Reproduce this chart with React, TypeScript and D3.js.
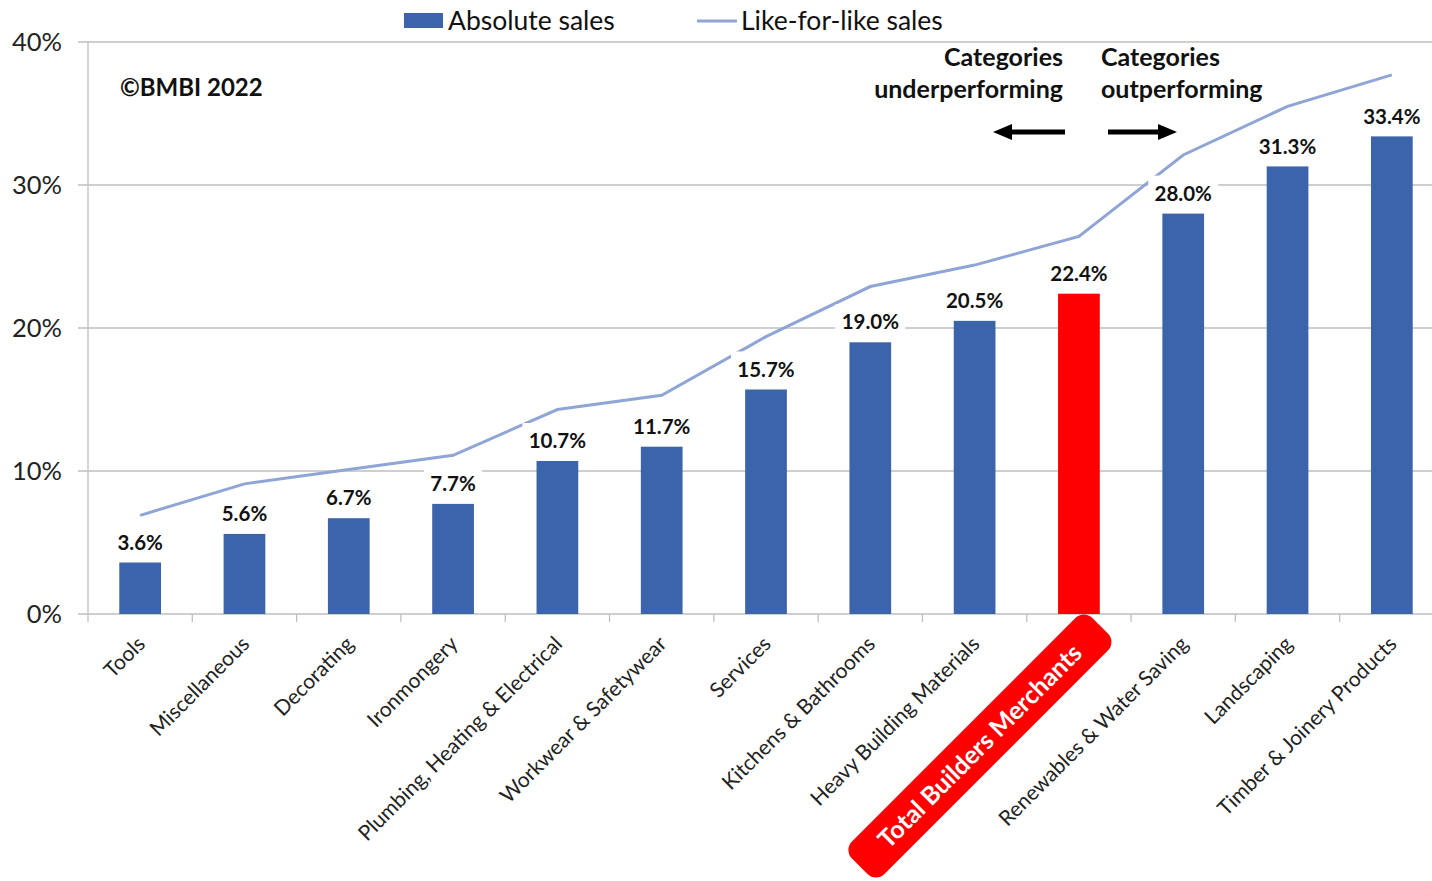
import { useMemo } from "react";
import * as d3 from "d3";

const categories = [
  "Tools",
  "Miscellaneous",
  "Decorating",
  "Ironmongery",
  "Plumbing, Heating & Electrical",
  "Workwear & Safetywear",
  "Services",
  "Kitchens & Bathrooms",
  "Heavy Building Materials",
  "Total Builders Merchants",
  "Renewables & Water Saving",
  "Landscaping",
  "Timber & Joinery Products",
];

const absoluteSales = [3.6, 5.6, 6.7, 7.7, 10.7, 11.7, 15.7, 19.0, 20.5, 22.4, 28.0, 31.3, 33.4];
const likeForLikeSales = [6.9, 9.1, 10.1, 11.1, 14.3, 15.3, 19.4, 22.9, 24.4, 26.4, 32.1, 35.5, 37.7];
const yTicks = [0, 10, 20, 30, 40];
const highlight = "Total Builders Merchants";

const W = 1432;
const H = 881;
// plot runs a little past the right edge of the picture (it was cropped)
const margin = { top: 42, right: -12, bottom: 267, left: 88 };

const BLUE = "#3c64aa";
const RED = "#ff0000";
const LINE = "#8fa5d6";
const GRID = "#bfbfbf";
const FONT = "Lato, 'Open Sans', sans-serif";

export default function App() {
  const innerW = W - margin.left - margin.right;
  const innerH = H - margin.top - margin.bottom;

  const x = useMemo(() => d3.scaleBand().domain(categories).range([0, innerW]), [innerW]);
  const y = useMemo(() => d3.scaleLinear().domain([0, 40]).range([innerH, 0]), [innerH]);
  const barW = x.bandwidth() * 0.4;
  const mid = (c: string) => (x(c) ?? 0) + x.bandwidth() / 2;

  const line = d3
    .line<number>()
    .x((_, i) => mid(categories[i]))
    .y((d) => y(d));

  return (
    <div style={{ position: "absolute", left: 0, top: 0 }}>
      <svg width={W} height={H} style={{ display: "block", background: "#fff" }} fontFamily={FONT}>
        {/* legend */}
        <g>
          <rect x={404} y={13} width={39} height={15} fill={BLUE} />
          <text x={448} y={30} fontSize={26.5} fill="#111">Absolute sales</text>
          <line x1={697} x2={737} y1={21} y2={21} stroke={LINE} strokeWidth={3} />
          <text x={741} y={30} fontSize={26.5} fill="#111">Like-for-like sales</text>
        </g>

        <g transform={`translate(${margin.left},${margin.top})`}>
          {/* y grid + labels */}
          {yTicks.map((t) => (
            <g key={t}>
              <line x1={-10} x2={innerW} y1={y(t)} y2={y(t)} stroke={GRID} strokeWidth={1.3} />
              <text x={-26} y={y(t)} dy="0.36em" textAnchor="end" fontSize={25.5} fill="#222">
                {t}%
              </text>
            </g>
          ))}
          <line x1={0} x2={0} y1={0} y2={innerH + 8} stroke={GRID} strokeWidth={1.3} />
          {categories.map((c) => (
            <line
              key={c}
              x1={(x(c) ?? 0) + x.bandwidth()}
              x2={(x(c) ?? 0) + x.bandwidth()}
              y1={innerH}
              y2={innerH + 8}
              stroke={GRID}
              strokeWidth={1.3}
            />
          ))}

          {/* bars */}
          {categories.map((c, i) => (
            <rect
              key={c}
              x={mid(c) - barW / 2}
              y={y(absoluteSales[i])}
              width={barW}
              height={innerH - y(absoluteSales[i])}
              fill={c === highlight ? RED : BLUE}
            />
          ))}

          {/* like-for-like line */}
          <path d={line(likeForLikeSales) ?? ""} fill="none" stroke={LINE} strokeWidth={3} />

          {/* data labels with white boxes */}
          {categories.map((c, i) => {
            const cx = mid(c);
            const ty = y(absoluteSales[i]) - 20;
            const label = `${absoluteSales[i].toFixed(1)}%`;
            const bw = label.length > 4 ? 70 : 58;
            return (
              <g key={c}>
                <rect x={cx - bw / 2} y={ty - 18} width={bw} height={32} fill="#fff" />
                <text x={cx} y={ty} dy="0.35em" textAnchor="middle" fontSize={20.5} fontWeight={700} fill="#111">
                  {label}
                </text>
              </g>
            );
          })}

          {/* x labels */}
          {categories
            .filter((c) => c !== highlight)
            .map((c) => (
              <g key={c} transform={`translate(${mid(c) + 1},${innerH + 26}) rotate(-45)`}>
                <text x={0} y={0} dy="0.35em" textAnchor="end" fontSize={21} fill="#222">
                  {c}
                </text>
              </g>
            ))}
          <g transform={`translate(${mid(highlight) - 99},${innerH + 132}) rotate(-45)`}>
            <rect x={-170} y={-23} width={340} height={46} rx={12} fill={RED} />
            <text x={0} y={0} dy="0.35em" textAnchor="middle" fontSize={25} fontWeight={700} fill="#fff">
              {highlight}
            </text>
          </g>
        </g>

        {/* annotations */}
        <text x={120} y={96} fontSize={24} fontWeight={700} fill="#111">©BMBI 2022</text>
        <g fontSize={25} fontWeight={700} fill="#111">
          <text x={1063} y={66} textAnchor="end">Categories</text>
          <text x={1063} y={98} textAnchor="end">underperforming</text>
          <text x={1101} y={66}>Categories</text>
          <text x={1101} y={98}>outperforming</text>
        </g>
        <line x1={1065} x2={1008} y1={132} y2={132} stroke="#000" strokeWidth={5} />
        <path d="M993,132 L1012,124 L1012,140 Z" fill="#000" />
        <line x1={1108} x2={1162} y1={132} y2={132} stroke="#000" strokeWidth={5} />
        <path d="M1177,132 L1158,124 L1158,140 Z" fill="#000" />
      </svg>
    </div>
  );
}
